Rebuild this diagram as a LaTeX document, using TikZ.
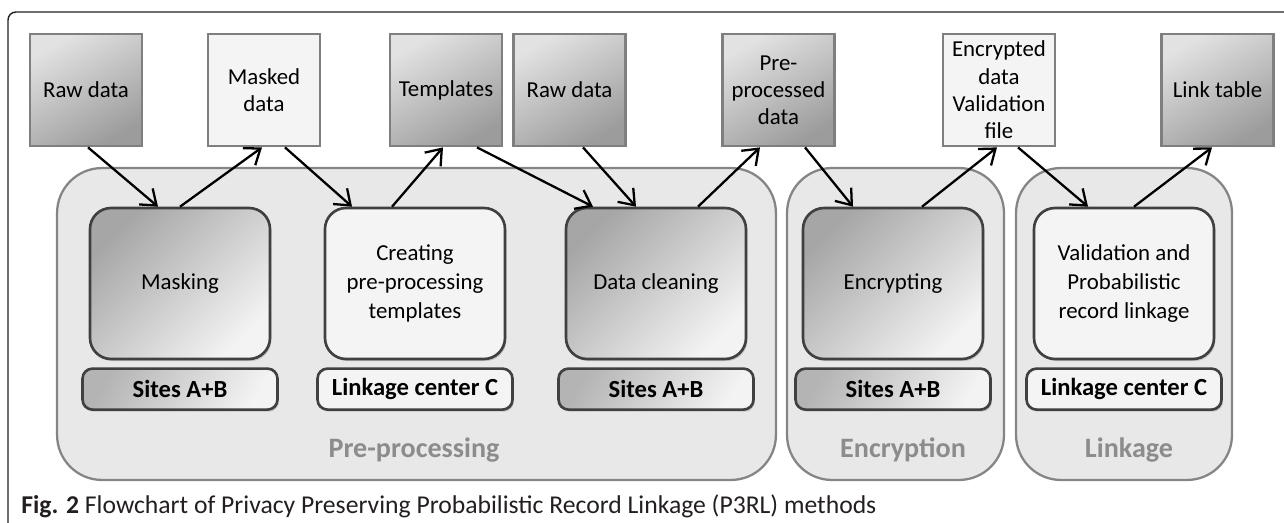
\documentclass[tikz,border=0pt]{standalone}
\usepackage{fontspec}
\setmainfont{Carlito}
\usetikzlibrary{arrows.meta, positioning, shadows}

\definecolor{boxline}{HTML}{7F7F7F}
\definecolor{datatop}{HTML}{E2E2E2}
\definecolor{databot}{HTML}{9C9C9C}
\definecolor{lightfill}{HTML}{F4F4F4}
\definecolor{innerline}{HTML}{404040}
\definecolor{steptop}{HTML}{A6A6A6}
\definecolor{stepbot}{HTML}{F3F3F3}
\definecolor{sitetop}{HTML}{B4B4B4}
\definecolor{grpfill}{HTML}{E8E8E8}
\definecolor{grpline}{HTML}{858585}
\definecolor{labelgray}{HTML}{8C8C8C}
\definecolor{captext}{HTML}{231F20}

\begin{document}
\begin{tikzpicture}[
    x=0.02cm, y=-0.02cm,
    datanode/.style={
        rectangle,
        draw=boxline,
        line width=1.6pt,
        minimum width=2.24cm,
        minimum height=2.24cm,
        inner sep=1pt,
        align=center,
        font=\fontsize{13}{15.5}\selectfont
    },
    datashade/.style={datanode, top color=datatop, bottom color=databot, shading angle=30},
    dataflat/.style={datanode, fill=lightfill},
    stepnode/.style={
        rectangle,
        rounded corners=0.42cm,
        draw=innerline,
        line width=1.5pt,
        minimum width=3.6cm,
        minimum height=3.02cm,
        align=center,
        font=\fontsize{13}{16.5}\selectfont,
        drop shadow={opacity=0.35, shadow xshift=0.8pt, shadow yshift=-1.2pt}
    },
    stepshade/.style={stepnode, top color=steptop, bottom color=stepbot, shading angle=45},
    stepflat/.style={stepnode, fill=lightfill},
    sitenode/.style={
        rectangle,
        rounded corners=0.2cm,
        draw=innerline,
        line width=1.5pt,
        minimum width=3.9cm,
        minimum height=0.82cm,
        font=\fontsize{14}{16}\selectfont\bfseries,
        drop shadow={opacity=0.35, shadow xshift=0.8pt, shadow yshift=-1.2pt}
    },
    siteshade/.style={sitenode, top color=sitetop, bottom color=stepbot, shading angle=60},
    siteflat/.style={sitenode, fill=lightfill},
    group/.style={
        rectangle,
        rounded corners=0.9cm,
        draw=grpline,
        fill=grpfill,
        line width=1.3pt,
        minimum height=6.24cm
    },
    grouplabel/.style={
        text=labelgray,
        font=\fontsize{16}{18}\selectfont\bfseries
    },
    arrow/.style={
        -{Straight Barb[length=2.8mm, width=4.2mm]},
        line width=1.3pt
    }
]

\useasboundingbox (0,0) rectangle (1284,523);

\draw [line width=0.8pt, captext, rounded corners=0.16cm] (8,523) -- (8,12) -- (1284,12);

\node (grppre) [group, minimum width=14.38cm] at (416.5,324) {};
\node (grpenc) [group, minimum width=4.34cm] at (895.5,324) {};
\node (grplink) [group, minimum width=4.32cm] at (1124,324) {};

\node (lblpre) [grouplabel] at (414,450) {Pre-processing};
\node (lblenc) [grouplabel] at (903,450) {Encryption};
\node (lbllink) [grouplabel] at (1129,450) {Linkage};

\node (rawa) [datashade] at (86,90) {Raw data};
\node (masked) [dataflat] at (264,90) {Masked\\data};
\node (templates) [datashade] at (446,90) {Templates};
\node (rawb) [datashade] at (569.5,90) {Raw data};
\node (preproc) [datashade] at (778.5,90) {Pre-\\processed\\data};
\node (encrypted) [dataflat] at (999,90) {Encrypted\\data\\Validation\\file};
\node (linktable) [datashade] at (1217.5,90) {Link table};

\node (masking) [stepshade] at (180,283.5) {Masking};
\node (creating) [stepflat] at (415,283.5) {Creating\\pre-processing\\templates};
\node (cleaning) [stepshade] at (656,283.5) {Data cleaning};
\node (encrypting) [stepshade] at (893,283.5) {Encrypting};
\node (validation) [stepflat] at (1124,283.5) {Validation and\\Probabilistic\\record linkage};

\node (sitea) [siteshade, below=0.14cm of masking] {Sites A+B};
\node (centera) [siteflat, below=0.14cm of creating] {Linkage center C};
\node (siteb) [siteshade, below=0.14cm of cleaning] {Sites A+B};
\node (sitec) [siteshade, below=0.14cm of encrypting] {Sites A+B};
\node (centerb) [siteflat, below=0.14cm of validation] {Linkage center C};

\draw [arrow] ([xshift=0.04cm]rawa.south) -- ([xshift=-0.44cm]masking.north);
\draw [arrow] (masking.north) -- ([xshift=-0.04cm]masked.south);
\draw [arrow] ([xshift=0.42cm]masked.south) -- ([xshift=-1.26cm]creating.north);
\draw [arrow] ([xshift=-0.46cm]creating.north) -- ([xshift=-0.06cm]templates.south);
\draw [arrow] ([xshift=0.62cm]templates.south) -- ([xshift=-1.26cm]cleaning.north);
\draw [arrow] ([xshift=0.27cm]rawb.south) -- ([xshift=-0.4cm]cleaning.north);
\draw [arrow] ([xshift=0.84cm]cleaning.north) -- ([xshift=-0.37cm]preproc.south);
\draw [arrow] ([xshift=0.53cm]preproc.south) -- ([xshift=-0.8cm]encrypting.north);
\draw [arrow] ([xshift=0.58cm]encrypting.north) -- ([xshift=-0.04cm]encrypted.south);
\draw [arrow] ([xshift=0.38cm]encrypted.south) -- ([xshift=-0.72cm]validation.north);
\draw [arrow] ([xshift=0.2cm]validation.north) -- ([xshift=-0.11cm]linktable.south);

\node (caption) [anchor=base west, inner sep=0pt, text=captext, font=\fontsize{14.6}{17}\selectfont] at (21,513)
    {\textbf{Fig. 2} Flowchart of Privacy Preserving Probabilistic Record Linkage (P3RL) methods};

\end{tikzpicture}
\end{document}
